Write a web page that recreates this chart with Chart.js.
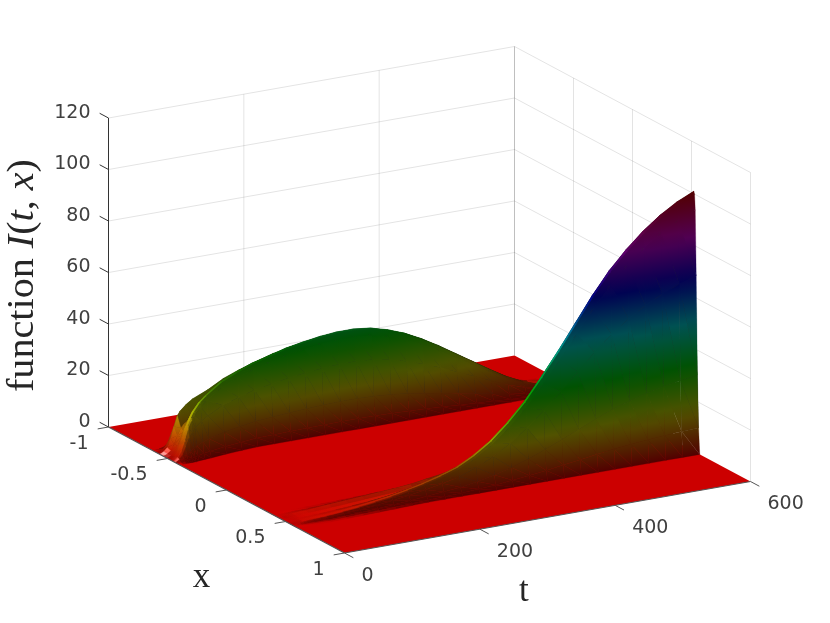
<!DOCTYPE html>
<html>
<head>
<meta charset="utf-8">
<title>function I(t,x)</title>
<script src="https://cdn.jsdelivr.net/npm/chart.js@4"></script>
<style>
    html, body { margin: 0; padding: 0; background: #fff; overflow: hidden; }
    canvas { display: block; }
</style>
</head>
<body>
<canvas id="surfaceChart" width="830" height="623"></canvas>
<script>
// crest heights, one value per entry of tValues
const tValues = [0, 5, 10, 15, 20, 25, 30, 40, 50, 75, 100, 125, 150, 175, 200, 225, 250, 275, 300, 325, 350, 375, 400, 425, 450, 475, 500, 525, 550, 575, 600];
const leftFront = [0.3, 1.5, 4, 8, 13, 16, 18, 21, 23, 26.8, 29.3, 31.3, 33, 34.8, 36, 37, 37.6, 37.6, 36.8, 35, 32.5, 29.2, 25.4, 21.2, 17, 12.8, 8.8, 5.6, 3.2, 1.6, 0.8];
const leftRear = [0.3, 1, 2.3, 5.5, 10, 14, 15.5, 17.5, 19, 21, 24, 26, 28, 30, 31, 32, 32.6, 32.6, 31.8, 30, 27.5, 24, 20, 16, 12, 9, 6, 4, 2, 1, 0.5];
const rightFront = [0.1, 0.3, 0.5, 0.7, 0.8, 0.9, 1, 1.1, 1.2, 1.6, 2.1, 2.8, 3.6, 4.7, 6, 7.8, 10, 13.5, 18, 24, 31, 39.5, 48.5, 58, 67.5, 76, 83, 89, 94, 98, 101];
const rightRear = [0.05, 0.1, 0.3, 0.5, 0.7, 0.8, 0.9, 1, 1.2, 1.5, 1.8, 2.1, 2.4, 2.6, 3, 4, 5, 6.5, 8, 13, 19, 28, 37, 46, 56, 64, 71, 77, 82, 87, 90];
const leftCentre = [-0.45, -0.45, -0.45, -0.45, -0.45, -0.45, -0.455, -0.46, -0.465, -0.48, -0.49, -0.5, -0.5, -0.5, -0.5, -0.5, -0.5, -0.5, -0.5, -0.5, -0.5, -0.5, -0.5, -0.5, -0.5, -0.5, -0.5, -0.5, -0.5, -0.5, -0.5];
const rightCentre = [0.55, 0.55, 0.55, 0.55, 0.55, 0.55, 0.55, 0.55, 0.55, 0.545, 0.54, 0.535, 0.53, 0.525, 0.52, 0.52, 0.52, 0.52, 0.52, 0.52, 0.52, 0.52, 0.52, 0.52, 0.52, 0.52, 0.52, 0.52, 0.52, 0.52, 0.52];

// cross section of a ridge, x measured from the front crest
const rowOffset = [-0.18, -0.145, -0.11, -0.08, -0.05, -0.02, -0.008, 0, 0.006, 0.012, 0.02, 0.03, 0.04, 0.05];
const frontShare = [0, 0, 0, 0.1, 0.4, 0.85, 0.98, 1, 0.99, 0.93, 0.68, 0.3, 0.1, 0];
const rearShare = [0, 0.35, 1, 0.6, 0.2, 0.05, 0, 0, 0, 0, 0, 0, 0, 0];

const zTicks = [0, 20, 40, 60, 80, 100, 120];
const xTicks = [-1, -0.5, 0, 0.5, 1];
const tTicks = [0, 200, 400, 600];

// orthographic view of the 3d box onto the plane of the chart
const view = { ox: 108.5, oy: 427, tx: 406, ty: -71.5, ux: 236, uy: 126, zy: 2.575 };
const zTop = 101;
const floorRed = "rgb(204,0,0)";
const backing = "rgb(35,40,35)";
const gridColor = "rgba(0,0,0,0.11)";
const axisColor = "#333333";

function project(t, x, z) {
    let s = t / 600, u = (x + 1) / 2;
    return {
        x: view.ox + s * view.tx + u * view.ux,
        y: view.oy + s * view.ty + u * view.uy - z * view.zy
    };
}

function hueRgb(z) {
    let h = ((z / zTop) % 1) * 6;
    let f = h - Math.floor(h);
    switch (Math.floor(h)) {
        case 0: return [1, f, 0];
        case 1: return [1 - f, 1, 0];
        case 2: return [0, 1, f];
        case 3: return [0, 1 - f, 1];
        case 4: return [f, 0, 1];
        default: return [1, 0, 1 - f];
    }
}

// one shade for a whole cell, from the normal across its two diagonals
function shadeCell(a, b, c, d, glare) {
    let k = 2 / 120;
    let e1 = [d.s - a.s, d.u - a.u, (d.z - a.z) * k];
    let e2 = [c.s - b.s, c.u - b.u, (c.z - b.z) * k];
    let n = [e1[1] * e2[2] - e1[2] * e2[1], e1[2] * e2[0] - e1[0] * e2[2], e1[0] * e2[1] - e1[1] * e2[0]];
    let len = Math.hypot(n[0], n[1], n[2]) || 1;
    if (n[2] < 0) len = -len;
    let ns = -n[0] / len, nu = n[1] / len, nz = n[2] / len;
    let v = 0.8 * Math.pow(nz, 3) + 0.32 * Math.abs(nu) + 0.75 * Math.pow(Math.max(ns, 0), 2.5);
    let dot = Math.max(0, 0.8 * ns + 0.25 * nu + 0.55 * nz);
    let zAvg = (a.z + b.z + c.z + d.z) / 4;
    // the highlight only shows at the foot of the first bumps
    return { v: Math.min(v, 1), spec: glare * Math.pow(dot, 50) * Math.max(0, 1 - zAvg / 8) };
}

function shadeColor(z, shade) {
    let c = hueRgb(z);
    let r = Math.min(255, Math.round(255 * (c[0] * shade.v + shade.spec)));
    let g = Math.min(255, Math.round(255 * (c[1] * shade.v + shade.spec)));
    let b = Math.min(255, Math.round(255 * (c[2] * shade.v + shade.spec)));
    return `rgb(${r},${g},${b})`;
}

// colour of a triangle: z is affine on the screen, so a linear gradient is exact
function triangleFill(chart, tri) {
    if (tri.fill) return tri.fill;
    let sx = chart.scales.x, sy = chart.scales.y;
    if (!sx || !sy || !sx.width) return floorRed;
    let pts = tri.p.map(v => ({ x: sx.getPixelForValue(v.pos.x), y: sy.getPixelForValue(v.pos.y), z: v.z }));
    let d1x = pts[1].x - pts[0].x, d1y = pts[1].y - pts[0].y, d1z = pts[1].z - pts[0].z;
    let d2x = pts[2].x - pts[0].x, d2y = pts[2].y - pts[0].y, d2z = pts[2].z - pts[0].z;
    let det = d1x * d2y - d2x * d1y;
    let zMin = Math.min(pts[0].z, pts[1].z, pts[2].z);
    let zMax = Math.max(pts[0].z, pts[1].z, pts[2].z);
    if (Math.abs(det) < 0.001 || zMax - zMin < 0.05) {
        tri.fill = shadeColor((zMin + zMax) / 2, tri.shade);
        return tri.fill;
    }
    let a = (d1z * d2y - d2z * d1y) / det;
    let b = (d1x * d2z - d2x * d1z) / det;
    let low = pts.find(q => q.z === zMin);
    let g2 = a * a + b * b;
    let reach = (zMax - zMin) / g2;
    let grad = chart.ctx.createLinearGradient(low.x, low.y, low.x + a * reach, low.y + b * reach);
    let steps = Math.max(1, Math.ceil((zMax - zMin) / 6));
    for (let i = 0; i <= steps; i++) {
        grad.addColorStop(i / steps, shadeColor(zMin + (zMax - zMin) * i / steps, tri.shade));
    }
    tri.fill = grad;
    return grad;
}

function triangleDataset(a, b, c, shade) {
    let tri = { p: [a, b, c], shade: shade };
    let paint = ctx => triangleFill(ctx.chart, tri);
    return {
        data: [a.pos, b.pos, c.pos, a.pos],
        fill: "shape",
        backgroundColor: paint,
        borderColor: paint,
        borderWidth: 0.3,
        borderJoinStyle: "round",
        pointRadius: 0,
        tension: 0,
        clip: false
    };
}

function lineDataset(points, color, width) {
    return {
        data: points,
        fill: false,
        borderColor: color,
        borderWidth: width,
        pointRadius: 0,
        tension: 0,
        clip: false
    };
}

function ridgeDatasets(front, rear, centre, glare) {
    let sets = [];
    let vertex = (i, j) => {
        let x = centre[i] + rowOffset[j];
        let z = front[i] * frontShare[j] + rear[i] * rearShare[j];
        return { s: tValues[i] / 600, u: (x + 1) / 2, z: z, pos: project(tValues[i], x, z) };
    };
    let crestRow = rowOffset.indexOf(0);
    // back to front, so that nearer cells cover farther ones
    for (let i = tValues.length - 2; i >= 0; i--) {
        // dark backing so that the joins between cells do not let white through;
        // only the last column has nothing behind it all the way down
        let footRow = i === tValues.length - 2 ? frontShare.lastIndexOf(0.1) : frontShare.indexOf(0.3);
        if (front[i + 1] > 10) {
            let p = [vertex(i, crestRow), vertex(i + 1, crestRow), vertex(i + 1, footRow), vertex(i, footRow), vertex(i, crestRow)];
            sets.push({
                data: p.map(v => v.pos),
                fill: "shape",
                backgroundColor: backing,
                borderWidth: 0,
                pointRadius: 0,
                tension: 0,
                clip: false
            });
        }
        for (let j = 0; j < rowOffset.length - 1; j++) {
            let a = vertex(i, j), b = vertex(i + 1, j), c = vertex(i, j + 1), d = vertex(i + 1, j + 1);
            if (Math.max(a.z, b.z, c.z, d.z) < 0.02) continue;
            let shade = shadeCell(a, b, c, d, glare);
            sets.push(triangleDataset(a, b, d, shade));
            sets.push(triangleDataset(a, d, c, shade));
        }
    }
    return sets;
}

let painted = [];

// back walls of the box
zTicks.slice(1).forEach(z => {
    painted.push(lineDataset([project(0, -1, z), project(600, -1, z), project(600, 1, z)], gridColor, 1));
});
tTicks.slice(1, 3).forEach(t => {
    painted.push(lineDataset([project(t, -1, 0), project(t, -1, 120)], gridColor, 1));
});
xTicks.slice(1).forEach(x => {
    painted.push(lineDataset([project(600, x, 0), project(600, x, 120)], gridColor, 1));
});
painted.push(lineDataset([project(600, -1, 0), project(600, -1, 120)], "rgba(0,0,0,0.25)", 1));

// floor
painted.push({
    data: [project(0, -1, 0), project(600, -1, 0), project(600, 1, 0), project(0, 1, 0), project(0, -1, 0)],
    fill: "shape",
    backgroundColor: floorRed,
    borderWidth: 0,
    pointRadius: 0,
    tension: 0,
    clip: false
});

painted = painted.concat(ridgeDatasets(leftFront, leftRear, leftCentre, 1));
painted = painted.concat(ridgeDatasets(rightFront, rightRear, rightCentre, 0.2));

// axes and tick marks
painted.push(lineDataset([project(0, -1, 0), project(0, -1, 120)], axisColor, 1));
painted.push(lineDataset([project(0, -1, 0), project(0, 1, 0)], "#555555", 1.2));
painted.push(lineDataset([project(0, 1, 0), project(600, 1, 0)], "#555555", 1.2));
zTicks.forEach(z => {
    painted.push(lineDataset([project(0, -1.075, z), project(0, -1, z)], axisColor, 1));
});
xTicks.forEach(x => {
    painted.push(lineDataset([project(-16, x, 0), project(0, x, 0)], "#555555", 1));
});
tTicks.forEach(t => {
    painted.push(lineDataset([project(t, 1, 0), project(t, 1.075, 0)], "#555555", 1));
});

const tickFont = "19px 'DejaVu Sans'";
const labelRuns = [
    ["function ", "normal"], ["I", "italic"], ["(", "normal"], ["t", "italic"],
    [", ", "normal"], ["x", "italic"], [")", "normal"]
];

const axisText = {
    id: "axisText",
    afterDatasetsDraw(chart) {
        let ctx = chart.ctx, sx = chart.scales.x, sy = chart.scales.y;
        let put = (text, p, dx, dy, align) => {
            ctx.textAlign = align;
            ctx.fillText(text, sx.getPixelForValue(p.x) + dx, sy.getPixelForValue(p.y) + dy);
        };
        ctx.save();
        ctx.fillStyle = "#404040";
        ctx.font = tickFont;
        ctx.textBaseline = "middle";
        zTicks.forEach(z => put(String(z), project(0, -1, z), -18, -5, "right"));
        xTicks.forEach(x => put(String(x), project(0, x, 0), -20, 17, "right"));
        tTicks.forEach(t => put(String(t), project(t, 1, 0), 17, 23, "left"));

        ctx.fillStyle = "#262626";
        ctx.textBaseline = "alphabetic";
        ctx.font = "35px 'Liberation Serif'";
        put("x", project(0, 0, 0), -25, 97, "center");
        put("t", project(200, 1, 0), 44, 72, "center");

        // y label, rotated, set run by run
        ctx.translate(33, 392);
        ctx.rotate(-Math.PI / 2);
        ctx.scale(1.085, 1);
        ctx.textAlign = "left";
        let at = 0;
        labelRuns.forEach(run => {
            ctx.font = `${run[1]} 37px 'Liberation Serif'`;
            ctx.fillText(run[0], at, 0);
            at += ctx.measureText(run[0]).width;
        });
        ctx.restore();
    }
};

new Chart(document.getElementById("surfaceChart").getContext("2d"), {
    type: "line",
    // chart.js paints dataset 0 last
    data: { datasets: painted.reverse() },
    options: {
        responsive: false,
        animation: false,
        events: [],
        layout: { padding: 0 },
        plugins: { legend: { display: false }, tooltip: { enabled: false }, title: { display: false } },
        scales: {
            x: { type: "linear", min: 0, max: 830, display: false },
            y: { type: "linear", min: 0, max: 623, reverse: true, display: false }
        }
    },
    plugins: [axisText]
});
</script>
</body>
</html>
